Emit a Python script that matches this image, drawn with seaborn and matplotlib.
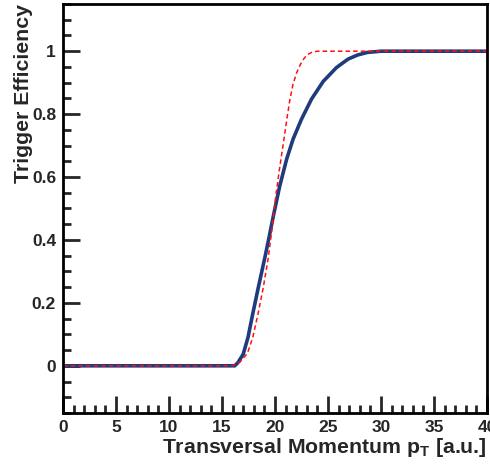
import matplotlib
matplotlib.use("Agg")
import matplotlib.pyplot as plt
from matplotlib.ticker import MultipleLocator
import seaborn as sns
import pandas as pd

# Data
red_pt = [0, 16.0, 16.7, 17.4, 17.9, 18.4, 18.9, 19.35, 19.7, 20.0, 20.4, 20.8,
          21.1, 21.4, 21.7, 22.05, 22.4, 22.7, 23.0, 23.5, 24.0, 40]
red_eff = [0, 0, 0.012, 0.04, 0.09, 0.165, 0.25, 0.34, 0.43, 0.52, 0.62, 0.71,
           0.78, 0.845, 0.895, 0.932, 0.958, 0.975, 0.988, 0.997, 1.0, 1.0]

blue_pt = [0, 16.2, 16.5, 17.0, 17.45, 17.9, 18.4, 19.05, 19.45, 19.85, 20.45,
           21.1, 21.7, 22.5, 23.45, 24.55, 25.8, 26.9, 27.8, 28.7, 30.0, 40]
blue_eff = [0, 0, 0.01, 0.037, 0.09, 0.165, 0.245, 0.345, 0.41, 0.477, 0.572,
            0.657, 0.72, 0.784, 0.848, 0.904, 0.948, 0.975, 0.988, 0.996, 1.0, 1.0]

x_ticks = [0, 5, 10, 15, 20, 25, 30, 35, 40]
x_ticklabels = ["0", "5", "10", "15", "20", "25", "30", "35", "40"]
y_ticks = [0, 0.2, 0.4, 0.6, 0.8, 1.0]
y_ticklabels = ["0", "0.2", "0.4", "0.6", "0.8", "1"]

x_label = "Transversal Momentum p$_{\\mathbf{T}}$ [a.u.]"
y_label = "Trigger Efficiency"

sns.set_theme(style="white")
plt.rcParams['font.family'] = ['Liberation Sans', 'DejaVu Sans']
plt.rcParams['font.weight'] = 'bold'
plt.rcParams['mathtext.default'] = 'bf'
plt.rcParams['mathtext.fontset'] = 'custom'
plt.rcParams['mathtext.bf'] = 'Liberation Sans:bold'
plt.rcParams['mathtext.rm'] = 'Liberation Sans:bold'

fig = plt.figure(figsize=(4.9, 4.65), dpi=100)
ax = fig.add_axes([63/490, 1-413/465, (487-63)/490, (413-4)/465])

df_blue = pd.DataFrame({"pt": blue_pt, "eff": blue_eff})
df_red = pd.DataFrame({"pt": red_pt, "eff": red_eff})

sns.lineplot(data=df_blue, x="pt", y="eff", ax=ax, color="#1f3b7e", lw=2.6,
             sort=False, estimator=None)
sns.lineplot(data=df_red, x="pt", y="eff", ax=ax, color="#ff1010", lw=1.1,
             sort=False, estimator=None)
ax.lines[-1].set_linestyle((0, (3, 2)))

ax.set_xlim(0, 40)
ax.set_ylim(-0.15, 1.15)
ax.xaxis.set_minor_locator(MultipleLocator(1))
ax.yaxis.set_minor_locator(MultipleLocator(0.05))
ax.set_xticks(x_ticks)
ax.set_xticklabels(x_ticklabels)
ax.set_yticks(y_ticks)
ax.set_yticklabels(y_ticklabels)

ax.tick_params(which="major", direction="in", length=12, width=2,
               labelsize=12.5, pad=5, bottom=True, left=True, top=False, right=False)
ax.tick_params(which="minor", direction="in", length=6, width=2,
               bottom=True, left=True, top=False, right=False)
for lab in ax.get_xticklabels() + ax.get_yticklabels():
    lab.set_fontweight("bold")

for s in ax.spines.values():
    s.set_linewidth(2)
    s.set_color("black")

ax.set_xlabel(x_label, fontsize=15.3, fontweight="bold", loc="right", labelpad=1)
ax.set_ylabel(y_label, fontsize=15.3, fontweight="bold", loc="top", labelpad=-1)

fig.savefig("out.png", dpi=100)
